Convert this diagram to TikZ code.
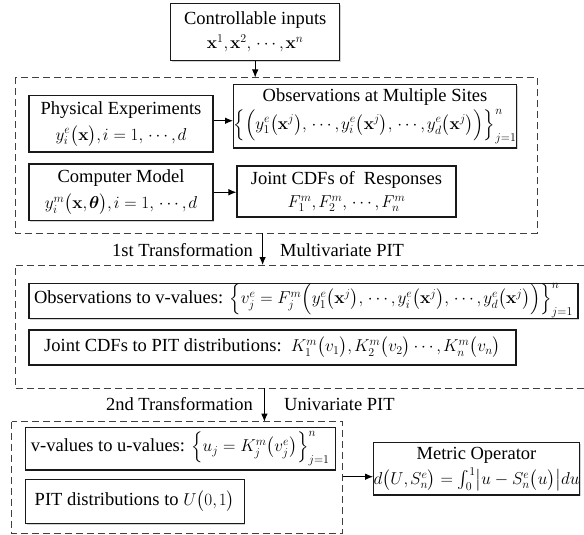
\documentclass[tikz,border=0pt]{standalone}
\IfFileExists{newtxmath.sty}{\usepackage{newtxmath}}{\usepackage{amsmath}}
\usepackage[no-math]{fontspec}
\setmainfont{Liberation Serif}
\usepackage{bm}
\usetikzlibrary{arrows.meta,shadows}
\newcommand{\cma}{{,}\mkern2mu}
\begin{document}
\begin{tikzpicture}[x=1bp,y=-1bp,
  every node/.style={font=\fontsize{18.5bp}{23bp}\selectfont},
  box/.style={draw=black!90, line width=1.1bp, fill=white, inner sep=0pt, align=center,
    drop shadow={shadow xshift=1.2bp, shadow yshift=-1.2bp, opacity=0.35}},
  dbox/.style={draw=black!75, line width=0.9bp, dash pattern=on 7bp off 4bp},
  arr/.style={draw=black, line width=0.9bp, -{Latex[length=8bp,width=6.5bp]}},
  lbl/.style={inner sep=0pt}
]
\useasboundingbox (0,0) rectangle (584,535);

% top box
\node[box, minimum width=169bp, minimum height=57bp] (top) at (255.2,32)
  {Controllable inputs\\[1bp] $\mathbf{x}^{1}\cma\mathbf{x}^{2}\cma\cdots\cma\mathbf{x}^{n}$};

% dashed group 1
\draw[dbox] (15,77.5) rectangle (537,233);
\coordinate (d1top) at (255.2,77.5);
\coordinate (d1bot) at (262.6,233);

\node[box, minimum width=184bp, minimum height=56.5bp] (phys) at (121,123.75)
  {Physical Experiments\\[3bp] $y_{i}^{e}\bigl(\mathbf{x}\bigr)\cma i=1\cma\cdots\cma d$};
\node[box, minimum width=282bp, minimum height=63.5bp] (obs) at (375,116.25)
  {Observations at Multiple Sites\\[2bp] $\Bigl\{\Bigl(y_{1}^{e}\bigl(\mathbf{x}^{j}\bigr)\cma\cdots\cma y_{i}^{e}\bigl(\mathbf{x}^{j}\bigr)\cma\cdots\cma y_{d}^{e}\bigl(\mathbf{x}^{j}\bigr)\Bigr)\Bigr\}_{j=1}^{n}$};
\node[box, minimum width=184bp, minimum height=56.5bp] (comp) at (121,192.25)
  {Computer Model\\[3bp] $y_{i}^{m}\bigl(\mathbf{x}\cma\bm{\theta}\bigr)\cma i=1\cma\cdots\cma d$};
\node[box, minimum width=219bp, minimum height=51bp] (joint) at (346.5,191.5)
  {Joint CDFs of \ Responses\\ $F_{1}^{m}\cma F_{2}^{m}\cma\cdots\cma F_{n}^{m}$};

\draw[arr] (top.south) -- (d1top);
\draw[arr] (phys.east) ++(0,-3) coordinate (pe) -- (pe -| obs.west);
\draw[arr] (comp.east) -- (comp.east -| joint.west);

% first transformation
\coordinate (d2top) at (262.6,265);
\draw[arr] (d1bot) -- (d2top);
\node[lbl, anchor=east] (t1a) at (253,250) {1st Transformation};
\node[lbl, anchor=west] (t1b) at (280,250) {Multivariate PIT};

% dashed group 2 (open on the right, runs off the picture)
\draw[dbox] (584,265) -- (15,265) -- (15,388.3) -- (584,388.3);
\coordinate (d2bot) at (264.4,388.3);

\node[box, minimum width=549bp, minimum height=35bp] (obsv) at (303.5,300.8)
  {Observations to v-values: $\Bigl\{v_{j}^{e}=F_{j}^{m}\Bigl(y_{1}^{e}\bigl(\mathbf{x}^{j}\bigr)\cma\cdots\cma y_{i}^{e}\bigl(\mathbf{x}^{j}\bigr)\cma\cdots\cma y_{d}^{e}\bigl(\mathbf{x}^{j}\bigr)\Bigr)\Bigr\}_{j=1}^{n}$};
\node[box, minimum width=487bp, minimum height=35bp] (jpit) at (272.5,347.5)
  {Joint CDFs to PIT distributions:\ \ $K_{1}^{m}\bigl(v_{1}\bigr)\cma K_{2}^{m}\bigl(v_{2}\bigr)\cdots\cma K_{n}^{m}\bigl(v_{n}\bigr)$};

% second transformation
\coordinate (d3top) at (264.4,421.7);
\draw[arr] (d2bot) -- (d3top);
\node[lbl, anchor=east] (t2a) at (253,404) {2nd Transformation};
\node[lbl, anchor=west] (t2b) at (284,404) {Univariate PIT};

% dashed group 3
\draw[dbox] (11.5,421.7) rectangle (342.6,533.3);
\coordinate (d3r) at (342.6,476.7);

\node[box, minimum width=309.7bp, minimum height=42.3bp] (vbox) at (180.2,448.8)
  {v-values to u-values: $\Bigl\{u_{j}=K_{j}^{m}\bigl(v_{j}^{e}\bigr)\Bigr\}_{j=1}^{n}$};
\node[box, minimum width=218.7bp, minimum height=44bp] (pitbox) at (134.7,501.3)
  {PIT distributions to $U\bigl(0\cma 1\bigr)$};

\node[box, minimum width=205bp, minimum height=52.3bp] (metric) at (476.5,468.8)
  {Metric Operator\\[2bp] $d\bigl(U\cma S_{n}^{e}\bigr)=\int_{0}^{1}\bigl|u-S_{n}^{e}\bigl(u\bigr)\bigr|du$};

\draw[arr] (d3r) -- (d3r -| metric.west);
\end{tikzpicture}
\end{document}
